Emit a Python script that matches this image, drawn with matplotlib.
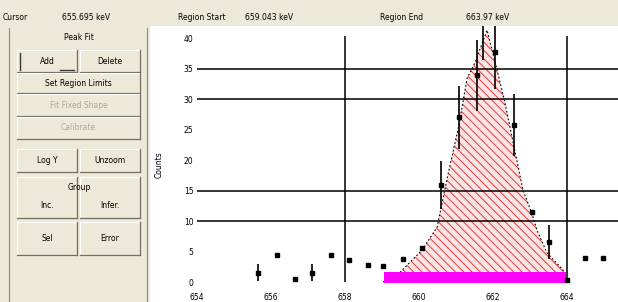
import matplotlib
matplotlib.use("Agg")
import matplotlib.pyplot as plt
from matplotlib.patches import Rectangle

W, H = 618, 302

# status bar
status_labels = ["Cursor", "Region Start", "Region End"]
status_values = ["655.695 keV", "659.043 keV", "663.97 keV"]

# spectrum (energy in keV, counts per bin, error bar half-length)
energy = [655.65, 656.16, 656.65, 657.11, 657.62, 658.11, 658.62, 659.03,
          659.57, 660.08, 660.59, 661.08, 661.57, 661.72, 662.05, 662.57,
          663.05, 663.51, 664.00, 664.49, 664.97]
counts = [1.5, 4.4, 0.5, 1.5, 4.4, 3.6, 2.8, 2.6,
          3.8, 5.6, 15.9, 27.0, 33.9, 43.0, 37.7, 25.7,
          11.5, 6.6, 0.3, 3.9, 3.9]
errors = [1.4, 0, 0, 1.4, 0, 0, 0, 0,
          0, 0, 4.0, 5.2, 5.8, 6.6, 6.1, 5.1,
          0, 2.8, 0, 0, 0]

# fitted peak
fit_energy = [659.03, 659.49, 660.08, 660.49, 660.78, 661.08, 661.30, 661.51,
              661.84, 662.11, 662.32, 662.59, 662.81, 663.05, 663.19, 663.46,
              663.89, 664.00]
fit_counts = [0.0, 1.6, 5.2, 9.0, 17.5, 25.7, 33.4, 35.9,
              41.3, 34.8, 29.5, 21.6, 15.1, 11.3, 8.5, 4.8,
              2.0, 0.0]

region_start = 659.043
region_end = 663.97

x_ticks = [654, 656, 658, 660, 662, 664]
y_ticks = [0, 5, 10, 15, 20, 25, 30, 35, 40]
grid_y = [35, 30, 15, 10]
grid_x = [658, 664]

# left panel buttons: (row, labels, disabled)
button_rows = [
    (["Add", "Delete"], False),
    (["Set Region Limits"], False),
    (["Fit Fixed Shape"], True),
    (["Calibrate"], True),
    (["Log Y", "Unzoom"], False),
    (["Inc.", "Infer."], False),
    (["Sel", "Error"], False),
]
row_spans = [(50, 72), (73, 93), (94, 116), (117, 139), (149, 172), (177, 218), (222, 255)]

BEIGE = "#ECE9D8"
plt.rcParams["font.family"] = ["DejaVu Sans"]
plt.rcParams["hatch.linewidth"] = 0.7

fig = plt.figure(figsize=(W / 100, H / 100), dpi=100)

# background in pixel coordinates
bg = fig.add_axes([0, 0, 1, 1])
bg.set_xlim(0, W)
bg.set_ylim(H, 0)
bg.axis("off")
bg.add_patch(Rectangle((0, 0), W, H, facecolor=BEIGE, edgecolor="none"))
bg.add_patch(Rectangle((150, 26), W - 150, H - 26, facecolor="white", edgecolor="none"))
bg.plot([9, 9], [28, H], color="#8c8a7e", lw=0.8)
bg.plot([147, 147], [28, H], color="#8c8a7e", lw=0.8)

xs = [3, 178, 380]
xv = [62, 245, 466]
for lab, val, a, b in zip(status_labels, status_values, xs, xv):
    bg.text(a, 17, lab, fontsize=5.5, va="center", ha="left")
    bg.text(b, 17, val, fontsize=5.5, va="center", ha="left")

bg.text(79, 37, "Peak Fit", fontsize=5.5, ha="center", va="center")


def draw_button(x0, x1, y0, y1, label, disabled, text_y=None):
    bg.add_patch(Rectangle((x0, y0), x1 - x0, y1 - y0, facecolor=BEIGE, edgecolor="none"))
    bg.plot([x0, x1], [y0, y0], color="white", lw=0.8)
    bg.plot([x0, x0], [y0, y1], color="white", lw=0.8)
    bg.plot([x0, x1], [y1, y1], color="#716F64", lw=0.9)
    bg.plot([x1, x1], [y0, y1], color="#716F64", lw=0.9)
    ty = (y0 + y1) / 2 if text_y is None else text_y
    bg.text((x0 + x1) / 2, ty, label, fontsize=5.5, ha="center", va="center",
            color="#ACA899" if disabled else "black")


for (labels, disabled), (y0, y1) in zip(button_rows, row_spans):
    ty = None
    if labels[0] == "Inc.":
        ty = 205
    if len(labels) == 1:
        draw_button(17, 140, y0, y1, labels[0], disabled)
    else:
        draw_button(17, 77, y0, y1, labels[0], disabled, ty)
        draw_button(80, 140, y0, y1, labels[1], disabled, ty)
bg.text(79, 187, "Group", fontsize=5.5, ha="center", va="center")
# pressed look on Add
bg.plot([20, 20], [53, 70], color="#3a3a3a", lw=1.0)
bg.plot([60, 74], [70, 70], color="#3a3a3a", lw=1.0)

fig.text(159 / W, 1 - 165 / H, "Counts", rotation=90, fontsize=5.5, ha="center", va="center")

# spectrum axes
ax = fig.add_axes([197 / W, 12 / H, (W - 197) / W, 264 / H])
ax.set_facecolor("none")
ax.set_xlim(654, 665.38)
ax.set_ylim(-1.31, 41.97)
for s in ax.spines.values():
    s.set_visible(False)
ax.set_xticks(x_ticks)
ax.set_yticks(y_ticks)
ax.tick_params(length=0, labelsize=5.5, pad=2.5)

ax.hlines(grid_y, 654, 665.38, color="black", lw=1.1, zorder=2)
ax.vlines(grid_x, 0, 40.3, color="black", lw=1.1, zorder=2)

ax.fill_between(fit_energy, fit_counts, 0, facecolor="#fde4e4", edgecolor="#e03a3a",
                hatch="\\\\\\\\", linewidth=0, zorder=1)
ax.plot(fit_energy, fit_counts, color="black", lw=0.8, ls=(0, (1.5, 2)), zorder=3)

ax.fill_between([region_start, region_end], -0.2, 1.6, color="#ff00ff", lw=0, zorder=4)

ax.errorbar(energy, counts, yerr=errors, fmt="s", ms=2.5, color="black",
            ecolor="black", elinewidth=1.2, capsize=0, zorder=5, clip_on=True)

fig.savefig("out.png", dpi=100)
